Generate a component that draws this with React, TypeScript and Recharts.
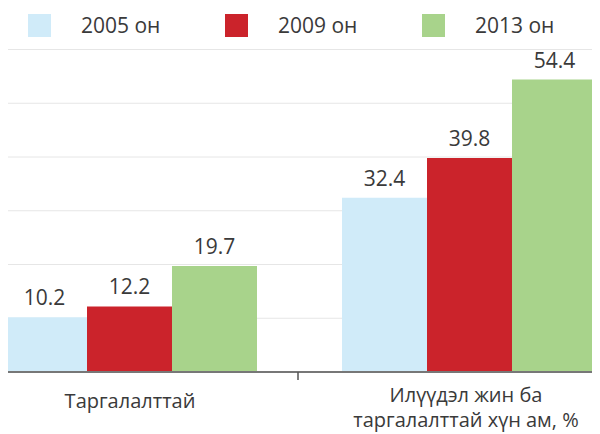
import { Bar, BarChart, CartesianGrid, LabelList, Legend, XAxis, YAxis } from "recharts";

// Survey years, one series each
const years = ["2005 он", "2009 он", "2013 он"];
const colors = ["#d0ebf9", "#cb232b", "#a8d38b"];

const categories = ["Таргалалттай", "Илүүдэл жин ба таргалалттай хүн ам, %"];
// wrapped tick labels, one list per category
const categoryLines = [["Таргалалттай"], ["Илүүдэл жин ба", "таргалалттай хүн ам, %"]];

const values2005 = [10.2, 32.4];
const values2009 = [12.2, 39.8];
const values2013 = [19.7, 54.4];

const yTicks = [0, 10, 20, 30, 40, 50, 60];

const data = categories.map((name, i) => ({
  name,
  v2005: values2005[i],
  v2009: values2009[i],
  v2013: values2013[i],
}));

const TEXT = "#3a3a3a";

function AxisTick(props: any) {
  const { x, y, index } = props;
  const lines = categoryLines[index] ?? [];
  const multi = lines.length > 1;
  return (
    <g>
      {/* the original only shows the tick between the two groups */}
      {index === 0 && (
        <line x1={x + 168} x2={x + 168} y1={y} y2={y + 8} stroke="#555" strokeWidth={1.5} />
      )}
      <text textAnchor="middle" fill={TEXT} fontSize={20}>
        {lines.map((l, i) => (
          <tspan key={i} x={multi ? x - 4 : x} y={y + (multi ? 30 + i * 25 : 36)}>
            {l}
          </tspan>
        ))}
      </text>
    </g>
  );
}

function LegendBox() {
  return (
    <div style={{ display: "flex", fontSize: 21, color: TEXT }}>
      {years.map((y, i) => (
        <div key={y} style={{ display: "flex", alignItems: "center", width: 197 }}>
          <span style={{ width: 23, height: 23, background: colors[i], display: "inline-block" }} />
          <span style={{ marginLeft: 30, lineHeight: "23px" }}>{y}</span>
        </div>
      ))}
    </div>
  );
}

export default function App() {
  return (
    <div style={{ position: "relative", width: 592, height: 426, overflow: "hidden" }}>
      <BarChart
        width={680}
        height={426}
        data={data}
        margin={{ top: 41.5, right: 0, bottom: 0, left: 0 }}
        barCategoryGap={42}
        barGap={0}
        style={{ position: "absolute", left: -48, top: 0, fontFamily: "'Open Sans', sans-serif" }}
      >
        <CartesianGrid vertical={false} stroke="#e6e6e6" />
        <XAxis
          dataKey="name"
          height={62}
          tickLine={false}
          tickSize={0}
          tickMargin={0}
          interval={0}
          axisLine={{ stroke: "#777", strokeWidth: 2 }}
          tick={<AxisTick />}
        />
        <YAxis hide domain={[0, 60]} ticks={yTicks} />
        <Legend
          layout="horizontal"
          verticalAlign="middle"
          align="center"
          content={() => <LegendBox />}
          wrapperStyle={{ top: 6, left: 68, width: 600, height: 24 }}
        />
        <Bar dataKey="v2005" name={years[0]} fill={colors[0]} isAnimationActive={false}>
          <LabelList dataKey="v2005" position="top" offset={12} fill={TEXT} fontSize={21} />
        </Bar>
        <Bar dataKey="v2009" name={years[1]} fill={colors[1]} isAnimationActive={false}>
          <LabelList dataKey="v2009" position="top" offset={12} fill={TEXT} fontSize={21} />
        </Bar>
        <Bar dataKey="v2013" name={years[2]} fill={colors[2]} isAnimationActive={false}>
          <LabelList dataKey="v2013" position="top" offset={12} fill={TEXT} fontSize={21} />
        </Bar>
      </BarChart>
    </div>
  );
}
